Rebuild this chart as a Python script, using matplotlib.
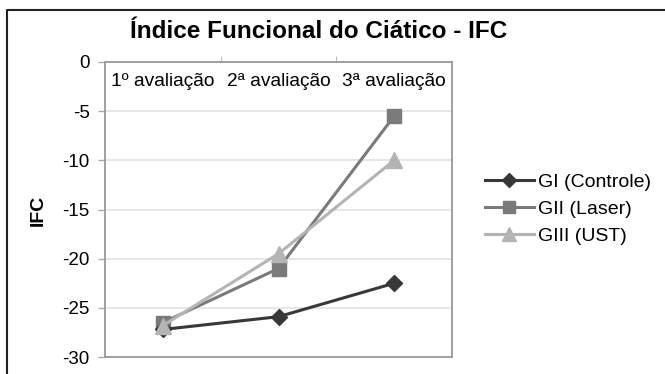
import matplotlib
matplotlib.use("Agg")
import matplotlib.pyplot as plt
from matplotlib.lines import Line2D

plt.rcParams['font.family'] = ['Liberation Sans', 'DejaVu Sans']

categories = ["1º avaliação", "2ª avaliação", "3ª avaliação"]
gi_controle = [-27.2, -25.9, -22.5]
gii_laser = [-26.5, -21.0, -5.5]
giii_ust = [-26.8, -19.5, -10.0]
series_labels = ["GI (Controle)", "GII (Laser)", "GIII (UST)"]
yticks = [0, -5, -10, -15, -20, -25, -30]

W, H = 665, 374
fig = plt.figure(figsize=(W / 100, H / 100), dpi=100)

def px(x0, y0, x1, y1):
    return [x0 / W, 1 - y1 / H, (x1 - x0) / W, (y1 - y0) / H]

ax = fig.add_axes(px(105, 62, 452, 357))
x = list(range(1, len(categories) + 1))

ax.plot(x, gi_controle, color="#383838", lw=2.2, marker="D", ms=8.5, label=series_labels[0], zorder=4)
ax.plot(x, gii_laser, color="#7a7a7a", lw=2.2, marker="s", ms=10.5, label=series_labels[1], zorder=3)
ax.plot(x, giii_ust, color="#b4b4b4", lw=2.2, marker="^", ms=12, label=series_labels[2], zorder=5)

ax.set_xlim(0.5, 3.5)
ax.set_ylim(-30, 0)
ax.set_yticks(yticks)
ax.set_yticklabels([str(v) for v in yticks], fontsize=13.5)
ax.yaxis.grid(True, color="#e2e2e2", lw=1.2)
ax.set_axisbelow(True)
ax.tick_params(axis="y", length=5, color="#aaaaaa", width=1, pad=6)

ax.xaxis.tick_top()
ax.set_xticks(x)
ax.set_xticklabels(categories, fontsize=13.8)
ax.tick_params(axis="x", which="major", length=0, pad=-20)
ax.set_xticks([1.5, 2.5], minor=True)
ax.tick_params(axis="x", which="minor", length=4, color="#aaaaaa", direction="out", top=True, bottom=False)

for s in ax.spines.values():
    s.set_color("#999999")
    s.set_linewidth(1.3)

fig.text(319 / W, 1 - 37.5 / H, "Índice Funcional do Ciático - IFC", ha="center", va="baseline",
         fontsize=17.5, fontweight="bold")
fig.text(38 / W, 1 - 210 / H, "IFC", ha="center", va="center", rotation=90,
         fontsize=14, fontweight="bold")

fig.legend(loc="center left", bbox_to_anchor=(485 / W, 1 - 209 / H), frameon=False,
           fontsize=14, handlelength=2.5, handletextpad=0.2, labelspacing=0.48,
           borderpad=0, borderaxespad=0, markerscale=0.8)

fig.add_artist(Line2D([7 / W, 7 / W, 1], [0, 1 - 10 / H, 1 - 10 / H], transform=fig.transFigure,
                      color="#222222", lw=1.5))

fig.savefig("out.png", dpi=100)
